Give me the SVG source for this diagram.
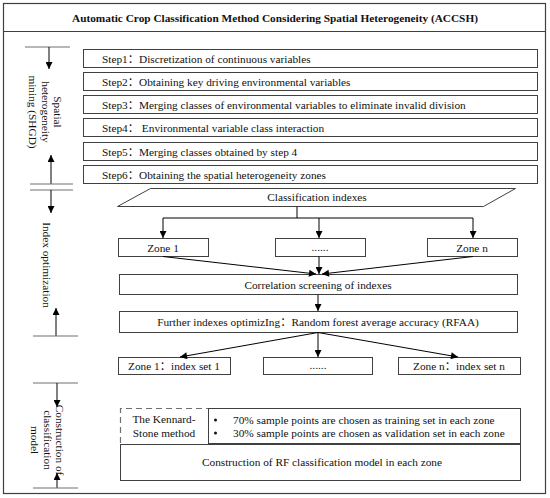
<svg xmlns="http://www.w3.org/2000/svg" width="550" height="498" viewBox="0 0 550 498">
<style>
.box{fill:#fff;stroke:#404040;stroke-width:1}
.t{font-family:"Liberation Serif","Times New Roman","Noto Sans CJK SC",serif;font-size:11.3px;fill:#111}
.m{text-anchor:middle}
.c{dominant-baseline:central}
.ln{stroke:#000;stroke-width:1;fill:none}
.gl{stroke:#707070;stroke-width:1.2;fill:none}
</style>
<defs>
<marker id="ah" viewBox="0 0 10 10" refX="10" refY="5" markerWidth="8" markerHeight="7" orient="auto" markerUnits="userSpaceOnUse">
<path d="M0,0 L10,5 L0,10 z" fill="#000"/>
</marker>
</defs>
<rect x="0" y="0" width="550" height="498" fill="#fff"/>
<g id="frame">
<rect x="3.5" y="3.5" width="542" height="490" fill="none" stroke="#404040" stroke-width="1.2"/>
<line x1="3.5" y1="31.5" x2="545.5" y2="31.5" stroke="#404040" stroke-width="1.2"/>
<text class="t m" x="275" y="22" font-weight="bold">Automatic Crop Classification Method Considering Spatial Heterogeneity (ACCSH)</text>
</g>
<g id="side-labels">
<line class="gl" x1="25" y1="47" x2="70" y2="47"/>
<line class="ln" x1="49" y1="47" x2="49" y2="69" marker-end="url(#ah)"/>
<line class="ln" x1="51" y1="184" x2="51" y2="155" marker-end="url(#ah)"/>
<line class="gl" x1="30" y1="184" x2="73" y2="184"/>
<line class="gl" x1="30" y1="190" x2="73" y2="190"/>
<line class="ln" x1="51" y1="190" x2="51" y2="213" marker-end="url(#ah)"/>
<text class="t m c" transform="translate(58,112) rotate(90)">Spatial</text>
<text class="t m c" transform="translate(46,112) rotate(90)">heterogeneity</text>
<text class="t m c" transform="translate(33,112) rotate(90)">mining (SHGD)</text>
<text class="t m c" transform="translate(47,265) rotate(90)">Index optimization</text>
<line class="ln" x1="56" y1="336" x2="56" y2="308" marker-end="url(#ah)"/>
<line class="gl" x1="33" y1="336" x2="78" y2="336"/>
<line class="gl" x1="33" y1="383" x2="78" y2="383"/>
<line class="ln" x1="57" y1="383" x2="57" y2="407" marker-end="url(#ah)"/>
<text class="t m c" transform="translate(60,440) rotate(90)">Construction of</text>
<text class="t m c" transform="translate(48,440) rotate(90)">classification</text>
<text class="t m c" transform="translate(35,440) rotate(90)">model</text>
<line class="ln" x1="57" y1="488" x2="57" y2="473" marker-end="url(#ah)"/>
<line class="gl" x1="33" y1="488" x2="78" y2="488"/>
</g>
<g id="step1"><rect class="box" x="83.5" y="49.5" width="454" height="18"/><text class="t" x="102" y="62.5">Step1：Discretization of continuous variables</text></g>
<g id="step2"><rect class="box" x="83.5" y="72.5" width="454" height="18"/><text class="t" x="102" y="85.5">Step2：Obtaining key driving environmental variables</text></g>
<g id="step3"><rect class="box" x="83.5" y="95.5" width="454" height="18"/><text class="t" x="102" y="108.5">Step3：Merging classes of environmental variables to eliminate invalid division</text></g>
<g id="step4"><rect class="box" x="83.5" y="118.5" width="454" height="18"/><text class="t" x="102" y="131.5">Step4： Environmental variable class interaction</text></g>
<g id="step5"><rect class="box" x="83.5" y="142.5" width="454" height="18"/><text class="t" x="102" y="155.5">Step5：Merging classes obtained by step 4</text></g>
<g id="step6"><rect class="box" x="83.5" y="165.5" width="454" height="18"/><text class="t" x="102" y="178.5">Step6：Obtaining the spatial heterogeneity zones</text></g>
<g id="classification-indexes"><path class="box" d="M150.5,188.5 L515.5,188.5 L483.5,206.5 L117.5,206.5 Z"/><text class="t m" x="317" y="201">Classification indexes</text></g>
<g id="zone1"><rect class="box" x="118.5" y="238.5" width="90" height="18"/><text class="t m" x="163" y="251.5">Zone 1</text></g>
<g id="zone-dots"><rect class="box" x="275.5" y="238.5" width="90" height="18"/><text class="t m" x="320" y="250.5">......</text></g>
<g id="zonen"><rect class="box" x="427.5" y="238.5" width="90" height="18"/><text class="t m" x="472" y="251.5">Zone n</text></g>
<g id="correlation"><rect class="box" x="119.5" y="274.5" width="398" height="20"/><text class="t m" x="318" y="288.5">Correlation screening of indexes</text></g>
<g id="rfaa"><rect class="box" x="119.5" y="311.5" width="398" height="21"/><text class="t m" x="318" y="326">Further indexes optimizIng：Random forest average accuracy (RFAA)</text></g>
<g id="set1"><rect class="box" x="118.5" y="357.5" width="112" height="17"/><text class="t m" x="174" y="370">Zone 1：index set 1</text></g>
<g id="set-dots"><rect class="box" x="263.5" y="357.5" width="109" height="17"/><text class="t m" x="318" y="369">......</text></g>
<g id="setn"><rect class="box" x="398.5" y="357.5" width="122" height="17"/><text class="t m" x="459" y="370">Zone n：index set n</text></g>
<g id="kennard-stone">
<path d="M120.5,443 L120.5,408.5 L208,408.5" fill="none" stroke="#707070" stroke-width="1.2" stroke-dasharray="6,4"/>
<text class="t m" x="164" y="423">The Kennard-</text>
<text class="t m" x="164" y="437">Stone method</text>
</g>
<g id="sample-split">
<rect class="box" x="208.5" y="408.5" width="312" height="35"/>
<circle cx="215.5" cy="420" r="1.5" fill="#111"/>
<circle cx="215.5" cy="433" r="1.5" fill="#111"/>
<text class="t" x="233" y="423.5">70% sample points are chosen as training set in each zone</text>
<text class="t" x="233" y="436.5">30% sample points are chosen as validation set in each zone</text>
</g>
<g id="rf-model"><rect class="box" x="120.5" y="444.5" width="400" height="36"/><text class="t m" x="322" y="466">Construction of RF classification model in each zone</text></g>
<g id="connectors">
<path class="ln" d="M297,206.5 L297,218 M163,218 L473,218"/>
<line class="ln" x1="163" y1="218" x2="163" y2="238" marker-end="url(#ah)"/>
<line class="ln" x1="319" y1="218" x2="319" y2="238" marker-end="url(#ah)"/>
<line class="ln" x1="473" y1="218" x2="473" y2="238" marker-end="url(#ah)"/>
<line class="ln" x1="163" y1="256.5" x2="316" y2="274" marker-end="url(#ah)"/>
<line class="ln" x1="319" y1="256.5" x2="319" y2="274" marker-end="url(#ah)"/>
<line class="ln" x1="473" y1="256.5" x2="322" y2="274" marker-end="url(#ah)"/>
<line class="ln" x1="318" y1="294.5" x2="318" y2="311" marker-end="url(#ah)"/>
<line class="ln" x1="318" y1="332.5" x2="180" y2="357" marker-end="url(#ah)"/>
<line class="ln" x1="318" y1="332.5" x2="318" y2="357" marker-end="url(#ah)"/>
<line class="ln" x1="318" y1="332.5" x2="458" y2="357" marker-end="url(#ah)"/>
</g>
</svg>
